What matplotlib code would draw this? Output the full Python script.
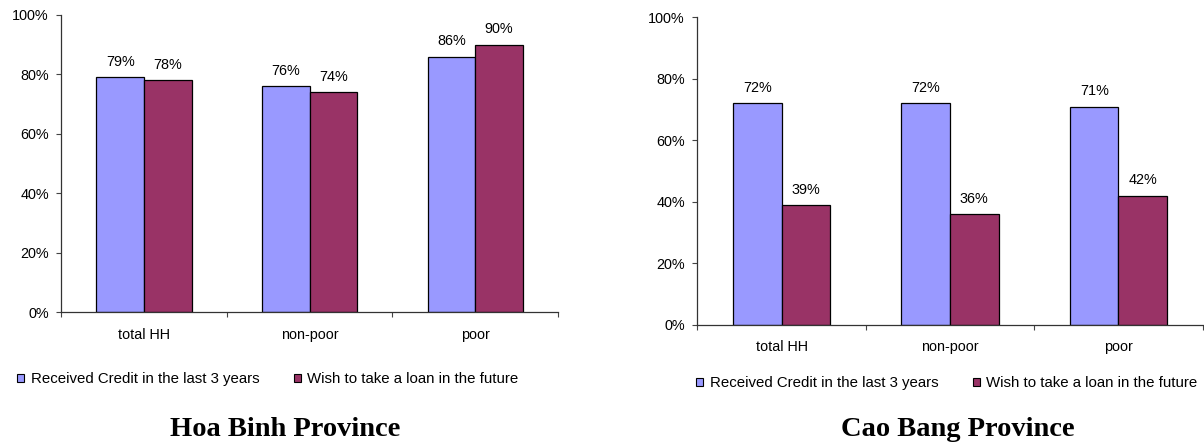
import numpy as np
import matplotlib
matplotlib.use("Agg")
import matplotlib.pyplot as plt
from matplotlib.patches import Patch
from matplotlib.ticker import FixedLocator, PercentFormatter

categories = ["total HH", "non-poor", "poor"]
series_names = ["Received Credit in the last 3 years", "Wish to take a loan in the future"]

hoa_binh_received = [79, 76, 86]
hoa_binh_wish = [78, 74, 90]
cao_bang_received = [72, 72, 71]
cao_bang_wish = [39, 36, 42]

panel_titles = ["Hoa Binh Province", "Cao Bang Province"]
y_ticks = [0, 20, 40, 60, 80, 100]

colors = ["#9999FF", "#993366"]

plt.rcParams["font.family"] = ["Liberation Sans", "DejaVu Sans"]

fig = plt.figure(figsize=(12.04, 4.43), dpi=100)

axes_boxes = [
    [61.3 / 1204, 1 - 312.3 / 443, (558 - 61.3) / 1204, (312.3 - 15) / 443],
    [697.3 / 1204, 1 - 325 / 443, (1202.7 - 697.3) / 1204, (325 - 17.3) / 443],
]
legend_centers = [(268 / 1204, 1 - 379 / 443), (947 / 1204, 1 - 383 / 443)]
title_anchors = [(285 / 1204, 1 - 436 / 443), (958 / 1204, 1 - 436 / 443)]

data = [(hoa_binh_received, hoa_binh_wish), (cao_bang_received, cao_bang_wish)]

bar_w = 0.288
x = np.arange(len(categories))

for box, (s1, s2), lc, tc, title in zip(axes_boxes, data, legend_centers, title_anchors, panel_titles):
    ax = fig.add_axes(box)
    for offset, vals, col in ((-bar_w / 2, s1, colors[0]), (bar_w / 2, s2, colors[1])):
        bars = ax.bar(x + offset, vals, width=bar_w, color=col, edgecolor="black", linewidth=0.9, zorder=2)
        for rect, v in zip(bars, vals):
            ax.annotate(f"{v}%", (rect.get_x() + rect.get_width() / 2, rect.get_height()),
                        xytext=(0, 11), textcoords="offset points", ha="center", va="center",
                        fontsize=10.4, color="black")
    ax.set_xlim(-0.5, len(categories) - 0.5)
    ax.set_ylim(0, 100)
    ax.set_yticks(y_ticks)
    ax.yaxis.set_major_formatter(PercentFormatter(decimals=0))
    ax.set_xticks(x)
    ax.set_xticklabels(categories)
    ax.xaxis.set_minor_locator(FixedLocator(np.arange(len(categories) + 1) - 0.5))
    ax.tick_params(axis="x", which="major", length=0, pad=11, labelsize=10.4)
    ax.tick_params(axis="x", which="minor", length=3.5, width=0.8, direction="out", color="#444444")
    ax.tick_params(axis="y", length=3.5, width=0.8, direction="out", pad=5.5, labelsize=10.4, color="#444444")
    for side in ("top", "right"):
        ax.spines[side].set_visible(False)
    for side in ("left", "bottom"):
        ax.spines[side].set_linewidth(0.9)
        ax.spines[side].set_color("#333333")

    handles = [Patch(facecolor=c, edgecolor="black", linewidth=0.8) for c in colors]
    fig.legend(handles, series_names, loc="center", bbox_to_anchor=lc, ncol=2, frameon=False,
               fontsize=10.8, handlelength=0.45, handleheight=0.45, handletextpad=0.45,
               columnspacing=2.3, borderpad=0)
    fig.text(tc[0], tc[1], title, ha="center", va="baseline", fontsize=20.5, fontweight="bold",
             family=["Liberation Serif", "DejaVu Serif"])

fig.savefig("out.png", dpi=100)
